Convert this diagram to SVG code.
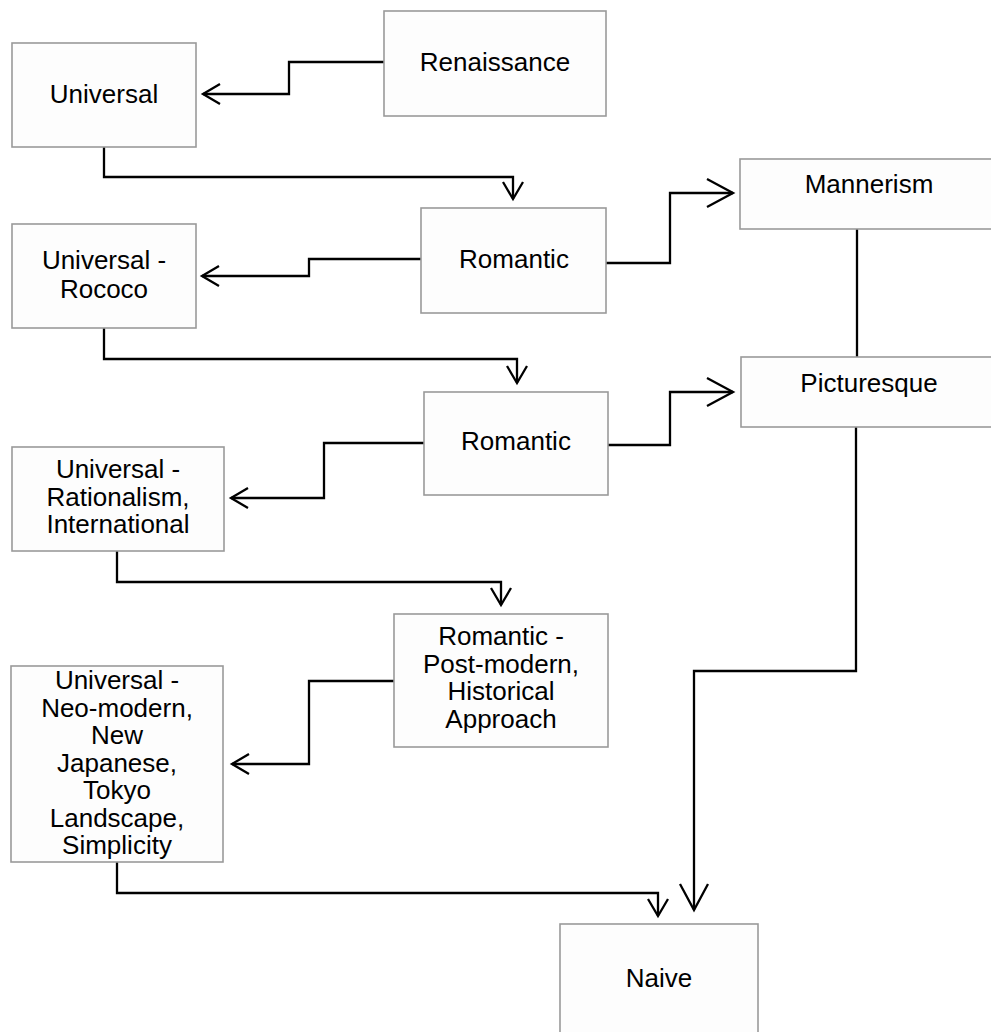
<svg xmlns="http://www.w3.org/2000/svg" width="991" height="1032" viewBox="0 0 991 1032">
<defs>
<style>
.box{fill:#fdfdfd;stroke:#9a9a9a;stroke-width:1.6}
.lbl{font-family:"Liberation Sans",Arial,sans-serif;font-size:26px;fill:#000;text-anchor:middle}
.conn{fill:none;stroke:#000;stroke-width:2.3}
</style>
<marker id="arrS" markerUnits="userSpaceOnUse" viewBox="-20 -12 22 24" refX="0" refY="0" markerWidth="22" markerHeight="24" orient="auto" overflow="visible">
<path d="M-17,-10 L0,0 L-17,10" fill="none" stroke="#000" stroke-width="2.3"/>
</marker>
<marker id="arrL" markerUnits="userSpaceOnUse" viewBox="-30 -16 32 32" refX="0" refY="0" markerWidth="32" markerHeight="32" orient="auto" overflow="visible">
<path d="M-26,-14 L0,0 L-26,14" fill="none" stroke="#000" stroke-width="2.3"/>
</marker>
</defs>
<rect width="991" height="1032" fill="#ffffff"/>
<g id="connectors">
<path class="conn" d="M384,62 H289 V94 H203" marker-end="url(#arrS)"/>
<path class="conn" d="M104,147 V177 H513 V199" marker-end="url(#arrS)"/>
<path class="conn" d="M606,263 H670 V193 H733" marker-end="url(#arrL)"/>
<path class="conn" d="M421,259 H309 V276 H202" marker-end="url(#arrS)"/>
<path class="conn" d="M104,328 V359 H517 V383" marker-end="url(#arrS)"/>
<path class="conn" d="M608,445 H670 V392 H733" marker-end="url(#arrL)"/>
<path class="conn" d="M424,443 H324 V498 H231" marker-end="url(#arrS)"/>
<path class="conn" d="M857,229 V357"/>
<path class="conn" d="M117,551 V582 H501 V605" marker-end="url(#arrS)"/>
<path class="conn" d="M394,681 H309 V764 H232" marker-end="url(#arrS)"/>
<path class="conn" d="M856,427 V671 H694 V910" marker-end="url(#arrL)"/>
<path class="conn" d="M117,862 V893 H658 V916" marker-end="url(#arrS)"/>
</g>
<g id="renaissance"><rect class="box" x="384" y="11" width="222" height="105"/><text class="lbl" x="495" y="71">Renaissance</text></g>
<g id="universal"><rect class="box" x="12" y="43" width="184" height="104"/><text class="lbl" x="104" y="103">Universal</text></g>
<g id="romantic1"><rect class="box" x="421" y="208" width="185" height="105"/><text class="lbl" x="514" y="268">Romantic</text></g>
<g id="rococo"><rect class="box" x="12" y="224" width="184" height="104"/><text class="lbl" x="104" y="269">Universal -</text><text class="lbl" x="104" y="298">Rococo</text></g>
<g id="mannerism"><rect class="box" x="740" y="159" width="258" height="70"/><text class="lbl" x="869" y="193">Mannerism</text></g>
<g id="picturesque"><rect class="box" x="741" y="357" width="258" height="70"/><text class="lbl" x="869" y="392">Picturesque</text></g>
<g id="romantic2"><rect class="box" x="424" y="392" width="184" height="103"/><text class="lbl" x="516" y="450">Romantic</text></g>
<g id="rationalism"><rect class="box" x="12" y="447" width="212" height="104"/><text class="lbl" x="118" y="478">Universal -</text><text class="lbl" x="118" y="505.5">Rationalism,</text><text class="lbl" x="118" y="533">International</text></g>
<g id="postmodern"><rect class="box" x="394" y="614" width="214" height="133"/><text class="lbl" x="501" y="645">Romantic -</text><text class="lbl" x="501" y="672.5">Post-modern,</text><text class="lbl" x="501" y="700">Historical</text><text class="lbl" x="501" y="727.5">Approach</text></g>
<g id="neomodern"><rect class="box" x="11" y="666" width="212" height="196"/><text class="lbl" x="117" y="689">Universal -</text><text class="lbl" x="117" y="716.5">Neo-modern,</text><text class="lbl" x="117" y="744">New</text><text class="lbl" x="117" y="771.5">Japanese,</text><text class="lbl" x="117" y="799">Tokyo</text><text class="lbl" x="117" y="826.5">Landscape,</text><text class="lbl" x="117" y="854">Simplicity</text></g>
<g id="naive"><rect class="box" x="560" y="924" width="198" height="120"/><text class="lbl" x="659" y="987">Naive</text></g>
</svg>
